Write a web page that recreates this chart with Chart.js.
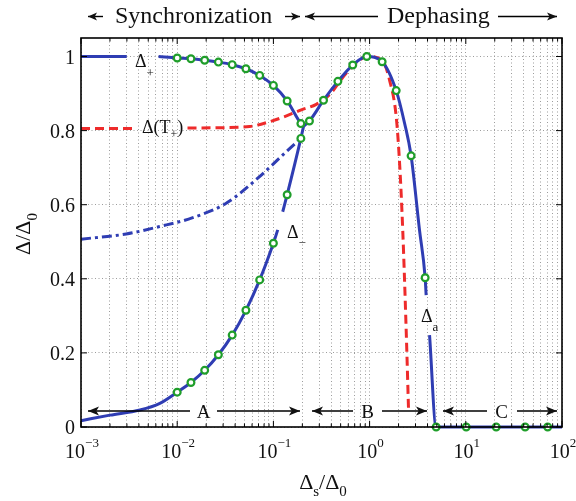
<!DOCTYPE html>
<html><head><meta charset="utf-8">
<style>html,body{margin:0;padding:0;background:#fff}#wrap{width:576px;height:501px;position:relative}</style>
<script src="https://cdn.jsdelivr.net/npm/chart.js@4.4.0/dist/chart.umd.min.js"></script>
</head><body><div id="wrap"><canvas id="c" width="576" height="501"></canvas></div>
<script>
// ---- data ----
// Delta_+ branch (null = gap left for its label)
const dPlusX = [0.001, 0.00299, 0.0045, 0.0064, 0.01, 0.0139, 0.0193, 0.0268, 0.0373, 0.0518, 0.072, 0.1, 0.139, 0.193, 0.206];
const dPlusY = [1.0, 1.0, null, 1.0, 0.996, 0.994, 0.99, 0.985, 0.978, 0.967, 0.949, 0.922, 0.88, 0.819, 0.812];
// Delta_- branch
const dMinusX = [0.001, 0.002, 0.0041, 0.0066, 0.01, 0.0139, 0.0193, 0.0268, 0.0373, 0.0518, 0.072, 0.1, 0.111, 0.118, 0.125, 0.139, 0.193, 0.206];
const dMinusY = [0.017, 0.032, 0.046, 0.064, 0.094, 0.12, 0.153, 0.195, 0.248, 0.315, 0.397, 0.496, 0.532, null, 0.581, 0.627, 0.779, 0.812];
// Delta_a (dephasing branch)
const dAX = [0.206, 0.237, 0.332, 0.468, 0.668, 0.935, 1.35, 1.89, 2.31, 2.70, 3.30, 3.78, 3.87, 4.0, 4.2, 4.92, 10.1, 20.7, 41.4, 71, 100];
const dAY = [0.812, 0.826, 0.882, 0.933, 0.977, 1.0, 0.986, 0.908, 0.82, 0.732, 0.532, 0.403, 0.356, null, 0.248, 0.0, 0.0, 0.0, 0.0, 0.0, 0.0];
// Delta(T_+) red dashed
const dTX = [0.001, 0.0036, 0.007, 0.0128, 0.03, 0.0565, 0.091, 0.125, 0.195, 0.279, 0.383, 0.571, 0.849, 1.0, 1.37, 1.61, 1.89, 2.05, 2.21, 2.40, 2.54];
const dTY = [0.806, 0.806, null, 0.807, 0.808, 0.811, 0.824, 0.836, 0.856, 0.871, 0.897, 0.955, 0.996, 1.0, 0.987, 0.937, 0.838, 0.712, 0.532, 0.262, 0.046];
// dash-dot blue curve
const dDashDotX = [0.001, 0.00295, 0.00655, 0.01452, 0.0323, 0.0718, 0.136, 0.193];
const dDashDotY = [0.507, 0.521, 0.541, 0.565, 0.604, 0.676, 0.743, 0.779];
// green circle markers
const markX = [0.01, 0.0139, 0.0193, 0.0268, 0.0373, 0.0518, 0.072, 0.1, 0.139, 0.193,
               0.01, 0.0139, 0.0193, 0.0268, 0.0373, 0.0518, 0.072, 0.1, 0.139, 0.193,
               0.237, 0.332, 0.468, 0.668, 0.935, 1.35, 1.89, 2.70, 3.78, 4.92, 10.1, 20.7, 41.4, 71];
const markY = [0.996, 0.994, 0.99, 0.985, 0.978, 0.967, 0.949, 0.922, 0.88, 0.819,
               0.094, 0.12, 0.153, 0.195, 0.248, 0.315, 0.397, 0.496, 0.627, 0.779,
               0.826, 0.882, 0.933, 0.977, 1.0, 0.986, 0.908, 0.732, 0.403, 0.0, 0.0, 0.0, 0.0, 0.0];
// axis ticks
const xDecades = [0.001, 0.01, 0.1, 1, 10, 100];
const xTickExp = ['\u22123', '\u22122', '\u22121', '0', '1', '2'];
const yTicks = [0, 0.2, 0.4, 0.6, 0.8, 1];
const yTickLabels = ['0', '0.2', '0.4', '0.6', '0.8', '1'];
const xMinorMult = [2, 3, 4, 5, 6, 7, 8, 9];

function pts(xs, ys) { return xs.map((x, i) => ({ x: x, y: ys[i] })); }
const xGridVals = [];
xDecades.forEach((d, i) => { xGridVals.push(d); if (i < xDecades.length - 1) xMinorMult.forEach(m => xGridVals.push(+(d * m).toPrecision(3))); });

const FONT = '"Liberation Serif", "Times New Roman", serif';
const BLUE = '#2f3db3', RED = '#ee2b2b', GREEN = '#1f9e2a';

function rich(ctx, parts, x, y, align) {
  let w = 0;
  parts.forEach(p => { ctx.font = p[1] + 'px ' + FONT; w += ctx.measureText(p[0]).width; });
  let cx = align === 'center' ? x - w / 2 : (align === 'right' ? x - w : x);
  ctx.textAlign = 'left'; ctx.textBaseline = 'alphabetic';
  parts.forEach(p => { ctx.font = p[1] + 'px ' + FONT; ctx.fillText(p[0], cx, y + (p[2] || 0)); cx += ctx.measureText(p[0]).width; });
}
function arrow(ctx, x1, x2, y, heads, hl, hw) {
  ctx.beginPath(); ctx.moveTo(x1, y); ctx.lineTo(x2, y); ctx.stroke();
  const head = (tip, dir) => { ctx.beginPath(); ctx.moveTo(tip, y); ctx.lineTo(tip - dir * hl, y - hw); ctx.lineTo(tip - dir * hl * 0.75, y); ctx.lineTo(tip - dir * hl, y + hw); ctx.closePath(); ctx.fill(); };
  if (heads.includes('L')) head(x1, -1);
  if (heads.includes('R')) head(x2, 1);
}

const deco = {
  id: 'deco',
  afterDraw(chart) {
    const ctx = chart.ctx, a = chart.chartArea, xs = chart.scales.x, ys = chart.scales.y;
    ctx.save();
    ctx.strokeStyle = '#000'; ctx.fillStyle = '#000'; ctx.lineWidth = 1;
    // tick marks inside (x: bottom & top, y: left & right)
    xGridVals.forEach(v => {
      const px = xs.getPixelForValue(v), len = xDecades.includes(v) ? 6 : 3.5;
      ctx.beginPath(); ctx.moveTo(px, a.bottom); ctx.lineTo(px, a.bottom - len);
      ctx.moveTo(px, a.top); ctx.lineTo(px, a.top + len); ctx.stroke();
    });
    yTicks.forEach(v => {
      const py = ys.getPixelForValue(v);
      ctx.beginPath(); ctx.moveTo(a.left, py); ctx.lineTo(a.left + 6, py);
      ctx.moveTo(a.right, py); ctx.lineTo(a.right - 6, py); ctx.stroke();
    });
    ctx.lineWidth = 1.6;
    ctx.strokeRect(a.left, a.top, a.right - a.left, a.bottom - a.top);
    // tick labels
    ctx.fillStyle = '#111';
    xDecades.forEach((v, i) => {
      const px = xs.getPixelForValue(v);
      rich(ctx, [['10', 20], [xTickExp[i], 13, -11]], px + 1, 458, 'center');
    });
    yTicks.forEach((v, i) => {
      const py = ys.getPixelForValue(v);
      rich(ctx, [[yTickLabels[i], 20]], 75, py + 7, 'right');
    });
    // axis titles
    rich(ctx, [['\u0394', 22], ['s', 15, 7], ['/\u0394', 22], ['0', 15, 7]], 323, 489, 'center');
    ctx.save(); ctx.translate(30, 234); ctx.rotate(-Math.PI / 2);
    rich(ctx, [['\u0394/\u0394', 22], ['0', 15, 7]], 0, 0, 'center');
    ctx.restore();
    // top title
    rich(ctx, [['Synchronization', 24]], 115, 23, 'left');
    rich(ctx, [['Dephasing', 24]], 387, 23, 'left');
    ctx.lineWidth = 1.4;
    arrow(ctx, 88, 103, 16.5, 'L', 9, 4);
    arrow(ctx, 285, 300, 16.5, 'R', 9, 4);
    arrow(ctx, 305, 378, 16.5, 'L', 10, 4);
    arrow(ctx, 498, 557, 16.5, 'R', 10, 4);
    // region arrows A, B, C
    ctx.lineWidth = 1.3;
    arrow(ctx, 88, 190, 411, 'L', 11, 4.5);
    arrow(ctx, 217, 300, 411, 'R', 11, 4.5);
    arrow(ctx, 312, 353, 411, 'L', 11, 4.5);
    arrow(ctx, 382, 427, 411, 'R', 11, 4.5);
    arrow(ctx, 443, 487, 411, 'L', 11, 4.5);
    arrow(ctx, 517, 557, 411, 'R', 11, 4.5);
    rich(ctx, [['A', 19]], 203.5, 418, 'center');
    rich(ctx, [['B', 19]], 367.5, 418, 'center');
    rich(ctx, [['C', 19]], 501.5, 418, 'center');
    // curve labels
    rich(ctx, [['\u0394', 18], ['+', 13, 10]], 135, 67, 'left');
    rich(ctx, [['\u0394(T', 18], ['+', 12, 5], [')', 18]], 142, 133, 'left');
    rich(ctx, [['\u0394', 18], ['\u2212', 13, 9]], 287, 238, 'left');
    rich(ctx, [['\u0394', 18], ['a', 13, 9]], 421, 322, 'left');
    ctx.restore();
  }
};

const lineBase = { showLine: true, pointRadius: 0, pointHoverRadius: 0, borderWidth: 3, fill: false, cubicInterpolationMode: 'monotone', spanGaps: false, clip: false };

new Chart(document.getElementById('c'), {
  type: 'scatter',
  data: {
    datasets: [
      { label: 'markers', data: pts(markX, markY), showLine: false, pointRadius: 3.4, pointHoverRadius: 3.4, pointBorderWidth: 2.2, pointBorderColor: GREEN, pointBackgroundColor: '#ffffff', clip: false, order: 0 },
      Object.assign({ label: 'Delta+', data: pts(dPlusX, dPlusY), borderColor: BLUE, order: 1 }, lineBase),
      Object.assign({ label: 'Delta-', data: pts(dMinusX, dMinusY), borderColor: BLUE, order: 2 }, lineBase),
      Object.assign({ label: 'Delta_a', data: pts(dAX, dAY), borderColor: BLUE, order: 3 }, lineBase),
      Object.assign({ label: 'Delta(T+)', data: pts(dTX, dTY), borderColor: RED, borderDash: [9, 5], order: 4 }, lineBase),
      Object.assign({ label: 'dashdot', data: pts(dDashDotX, dDashDotY), borderColor: BLUE, borderDash: [10, 4, 3, 4], order: 5 }, lineBase)
    ]
  },
  options: {
    responsive: false, animation: false, events: [],
    layout: { padding: { top: 38, right: 14, left: 0, bottom: 0 } },
    plugins: { legend: { display: false }, tooltip: { enabled: false } },
    scales: {
      x: {
        type: 'logarithmic', min: 0.001, max: 100,
        afterBuildTicks: s => { s.ticks = xGridVals.map(v => ({ value: v })); },
        afterFit: s => { s.height = 74; },
        ticks: { display: false },
        grid: { color: '#9c9c9c', lineWidth: 1, drawTicks: false },
        border: { display: false, dash: [1, 2.5] }
      },
      y: {
        type: 'linear', min: 0, max: 1.05,
        afterBuildTicks: s => { s.ticks = yTicks.map(v => ({ value: v })); },
        afterFit: s => { s.width = 81; },
        ticks: { display: false },
        grid: { color: '#9c9c9c', lineWidth: 1, drawTicks: false },
        border: { display: false, dash: [1, 2.5] }
      }
    }
  },
  plugins: [deco]
});
</script></body></html>
